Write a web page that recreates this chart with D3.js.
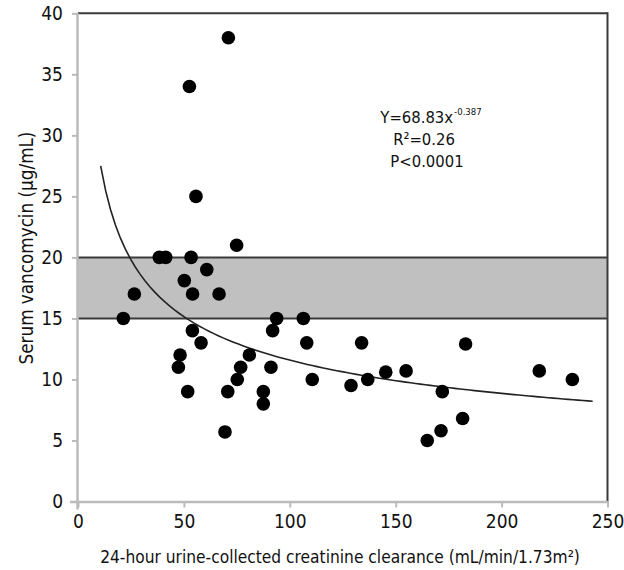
<!DOCTYPE html>
<html><head><meta charset="utf-8">
<script src="https://cdn.jsdelivr.net/npm/d3@7"></script>
<style>body{margin:0;background:#fff}svg{display:block}</style>
</head><body>
<script>
const clearance = [71.0,52.6,55.7,74.9,38.4,41.4,53.4,60.8,50.2,21.4,26.6,54.1,66.6,54.0,58.1,48.2,47.4,51.8,69.4,70.7,75.2,76.8,80.9,87.5,87.5,91.1,91.9,93.8,106.4,108.0,110.6,133.9,128.9,136.8,145.3,154.9,172.0,183.0,181.6,171.4,164.9,217.8,233.4];
const vancomycin = [38.0,34.0,25.0,21.0,20.0,20.0,20.0,19.0,18.1,15.0,17.0,17.0,17.0,14.0,13.0,12.0,11.0,9.0,5.7,9.0,10.0,11.0,12.0,9.0,8.0,11.0,14.0,15.0,15.0,13.0,10.0,13.0,9.5,10.0,10.6,10.7,9.0,12.9,6.8,5.8,5.0,10.7,10.0];
const xTicks = [0,50,100,150,200,250];
const yTicks = [0,5,10,15,20,25,30,35,40];
const targetRange = [15,20];
const fitCoef = 68.83, fitExp = -0.387, fitRange = [10.7, 243];

const W=624,H=570;
const m={l:78,r:16.5,t:13.3,b:68.5};
const svg=d3.select("body").append("svg").attr("width",W).attr("height",H);
const FONT='"DejaVu Sans Condensed","Liberation Sans Narrow",sans-serif';
const x=d3.scaleLinear().domain([0,250]).range([m.l,W-m.r]);
const y=d3.scaleLinear().domain([0,40]).range([H-m.b,m.t]);

// band
svg.append("rect").attr("x",x(0)).attr("y",y(targetRange[1])).attr("width",x(250)-x(0)).attr("height",y(targetRange[0])-y(targetRange[1])).attr("fill","#c0c0c0");
targetRange.forEach(v=>svg.append("line").attr("x1",x(0)).attr("x2",x(250)).attr("y1",y(v)).attr("y2",y(v)).attr("stroke","#3a3a3a").attr("stroke-width",2));
// top and right border
svg.append("line").attr("x1",x(0)).attr("x2",x(250)).attr("y1",y(40)).attr("y2",y(40)).attr("stroke","#3a3a3a").attr("stroke-width",2);
svg.append("line").attr("x1",x(250)).attr("x2",x(250)).attr("y1",y(40)-1).attr("y2",y(0)).attr("stroke","#3a3a3a").attr("stroke-width",2);

// axes
const ax=svg.append("g").attr("transform",`translate(0,${y(0)})`).call(d3.axisBottom(x).tickValues(xTicks).tickSize(6).tickPadding(7).tickFormat(d3.format("d")));
const ay=svg.append("g").attr("transform",`translate(${x(0)},0)`).call(d3.axisLeft(y).tickValues(yTicks).tickSize(6).tickPadding(9).tickFormat(d3.format("d")));
[ax,ay].forEach(g=>{g.attr("font-size",null).attr("font-family",null);
 g.select(".domain").attr("stroke","#bbbbbb").attr("stroke-width",2.5);
 g.selectAll(".tick line").attr("stroke","#bbbbbb").attr("stroke-width",2);
 g.selectAll("text").style("font-family",FONT).style("font-size","19px").attr("fill","#111");});
ax.select(".domain").attr("d",`M${x(0)-8},0.5H${x(250)}`);
ay.select(".domain").attr("d",`M-0.5,${y(0)+8}V${y(40)}`);

// fit curve
const fx=d3.range(0,101).map(i=>fitRange[0]+(fitRange[1]-fitRange[0])*i/100);
svg.append("path").attr("d",d3.line().x(d=>x(d)).y(d=>y(fitCoef*Math.pow(d,fitExp)))(fx))
 .attr("fill","none").attr("stroke","#222").attr("stroke-width",1.6);

// points
svg.append("g").selectAll("circle").data(clearance.map((c,i)=>[c,vancomycin[i]])).join("circle")
 .attr("cx",d=>x(d[0])).attr("cy",d=>y(d[1])).attr("r",6.8).attr("fill","#000");

function txt(x0,y0,t,size,anchor){
  return svg.append("text").attr("x",x0).attr("y",y0).attr("text-anchor",anchor||"start")
    .style("font-family",FONT).style("font-size",size+"px").attr("fill","#111").text(t);
}
// annotations (uniform size)
const AS=16.5;
const eqMain=txt(0,123,"Y=68.83x",AS);
const eqSup=txt(0,115,"-0.387",9.5);
const w1=eqMain.node().getComputedTextLength(), w2=eqSup.node().getComputedTextLength();
const eqStart=431-(w1+w2+1)/2;
eqMain.attr("x",eqStart); eqSup.attr("x",eqStart+w1+1);
txt(424,145,"R²=0.26",AS,"middle");
txt(427,166.5,"P<0.0001",AS,"middle");

// axis titles (font size chosen to fit the reference width)
const xt=txt(340,563,"24-hour urine-collected creatinine clearance (mL/min/1.73m²)",19,"middle");
xt.style("font-size",(19*480/xt.node().getComputedTextLength())+"px");
const yt=svg.append("text").attr("transform","translate(33,248) rotate(-90)").attr("text-anchor","middle").style("font-family",FONT).style("font-size","19px").attr("fill","#111").text("Serum vancomycin (µg/mL)");
yt.style("font-size",(19*233/yt.node().getComputedTextLength())+"px");
</script>
</body></html>
